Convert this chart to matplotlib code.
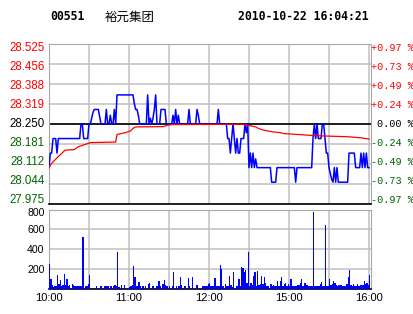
import matplotlib.pyplot as plt

plt.rcParams['font.family'] = ['Liberation Sans', 'DejaVu Sans']

# 股票信息
code = "00551"
name = "裕元集团"
stamp = "2010-10-22 16:04:21"
prev_close = 28.25

# 刻度标签
price_ticks = [28.525, 28.456, 28.388, 28.319, 28.250, 28.181, 28.112, 28.044, 27.975]
pct_labels = ["+0.97 %", "+0.73 %", "+0.49 %", "+0.24 %", "0.00 %",
              "-0.24 %", "-0.49 %", "-0.73 %", "-0.97 %"]
vol_ticks = [800, 600, 400, 200]
time_pos = [0, 60, 120, 180, 240]          # 交易分钟序号
time_labels = ["10:00", "11:00", "12:00", "15:00", "16:00"]

# 分时价格 (分钟序号, 价格)
price_min = [0, 1, 2, 3, 5, 6, 7, 23, 24, 25, 26, 29, 30, 31, 32, 33, 34, 37, 39, 42,
             43, 44, 45, 46, 47, 48, 49, 50, 51, 63, 64, 65, 66, 67, 68, 73, 74, 75, 76, 77,
             78, 79, 80, 81, 83, 84, 87, 88, 92, 93, 94, 95, 96, 97, 98, 104, 105, 106, 110, 111,
             112, 113, 126, 127, 128, 133, 134, 135, 136, 137, 138, 139, 140, 141, 142, 143, 144, 146, 147, 148,
             149, 150, 151, 152, 153, 154, 155, 156, 166, 167, 170, 171, 184, 185, 186, 197, 198, 199, 200, 201,
             202, 204, 205, 206, 207, 208, 209, 210, 211, 212, 213, 214, 215, 216, 217, 224, 225, 229, 230, 233,
             234, 235, 236, 237, 238, 239, 240]
price_val = [28.10, 28.15, 28.15, 28.20, 28.20, 28.15, 28.20, 28.20, 28.25, 28.25, 28.20, 28.20, 28.25, 28.25, 28.27, 28.29, 28.30, 28.30, 28.25, 28.25,
             28.30, 28.25, 28.25, 28.28, 28.25, 28.25, 28.30, 28.25, 28.35, 28.35, 28.32, 28.30, 28.30, 28.28, 28.25, 28.25, 28.35, 28.25, 28.27, 28.25,
             28.27, 28.30, 28.35, 28.25, 28.25, 28.30, 28.30, 28.25, 28.25, 28.28, 28.25, 28.30, 28.25, 28.28, 28.25, 28.25, 28.30, 28.25, 28.25, 28.30,
             28.28, 28.25, 28.25, 28.30, 28.25, 28.25, 28.20, 28.20, 28.15, 28.20, 28.25, 28.20, 28.15, 28.20, 28.15, 28.15, 28.20, 28.20, 28.25, 28.22,
             28.25, 28.10, 28.15, 28.10, 28.15, 28.10, 28.13, 28.10, 28.10, 28.05, 28.05, 28.10, 28.10, 28.05, 28.10, 28.10, 28.20, 28.25, 28.20, 28.25,
             28.20, 28.20, 28.25, 28.25, 28.20, 28.15, 28.15, 28.10, 28.08, 28.06, 28.05, 28.10, 28.05, 28.10, 28.05, 28.05, 28.15, 28.15, 28.10, 28.10,
             28.15, 28.10, 28.15, 28.10, 28.15, 28.10, 28.10]

# 均价线
avg_min = [0, 2, 7, 12, 19, 22, 26, 31, 50, 51, 57, 61, 63, 65, 86, 88, 92, 145, 150, 155,
           157, 160, 164, 168, 174, 176, 190, 199, 212, 225, 235, 240]
avg_val = [28.100, 28.115, 28.138, 28.160, 28.162, 28.172, 28.178, 28.186, 28.188, 28.214,
           28.220, 28.226, 28.235, 28.240, 28.241, 28.245, 28.248, 28.249, 28.245, 28.240,
           28.235, 28.230, 28.226, 28.223, 28.220, 28.217, 28.213, 28.210, 28.208, 28.206,
           28.202, 28.198]

# 每分钟成交量
volume = [245, 100, 34, 17, 24, 24, 134, 50, 84, 24,
          34, 144, 34, 100, 24, 34, 0, 50, 34, 24,
          24, 24, 24, 24, 24, 517, 0, 24, 24, 50,
          134, 0, 0, 0, 0, 24, 0, 0, 24, 24,
          0, 24, 24, 24, 24, 0, 24, 0, 24, 40,
          24, 366, 17, 0, 34, 0, 34, 0, 0, 0,
          17, 24, 34, 225, 114, 24, 24, 64, 24, 0,
          24, 0, 24, 0, 44, 57, 0, 24, 24, 0,
          24, 24, 74, 24, 0, 44, 90, 34, 24, 0,
          24, 0, 24, 165, 0, 24, 0, 24, 114, 34,
          0, 24, 24, 0, 104, 24, 0, 114, 0, 0,
          34, 34, 0, 0, 0, 24, 24, 24, 24, 47,
          60, 24, 24, 24, 104, 24, 24, 24, 235, 200,
          24, 0, 44, 24, 24, 124, 34, 17, 165, 0,
          24, 24, 94, 24, 215, 208, 165, 191, 54, 366,
          24, 54, 34, 124, 165, 24, 181, 34, 44, 131,
          44, 114, 54, 24, 24, 0, 44, 24, 40, 24,
          24, 80, 24, 80, 114, 24, 44, 54, 24, 44,
          24, 94, 24, 24, 24, 24, 40, 34, 54, 94,
          24, 54, 54, 34, 24, 24, 24, 24, 770, 24,
          24, 24, 24, 44, 64, 24, 24, 648, 24, 24,
          94, 34, 44, 74, 54, 34, 24, 34, 40, 34,
          24, 24, 24, 44, 114, 185, 34, 24, 44, 24,
          24, 44, 24, 34, 34, 40, 74, 44, 54, 34,
          134]

W, H = 414, 314
RED, GREEN, GRID, EDGE = '#ff0000', '#006400', '#c0c0c0', '#a8a8a8'

fig = plt.figure(figsize=(W / 100, H / 100), dpi=100)
ax = fig.add_axes([49 / W, 1 - 204 / H, 322 / W, 160 / H])
axv = fig.add_axes([49 / W, 1 - 288.5 / H, 322 / W, 79 / H])

# 价格图
ax.set_xlim(0, 241.5)
ax.set_ylim(price_ticks[-1], price_ticks[0])
ax.set_xticks(range(0, 241, 30))
ax.set_yticks(price_ticks)
ax.grid(color=GRID, lw=1.1)
ax.tick_params(length=0, labelleft=False, labelbottom=False)
for s in ['left', 'right', 'top']:
    ax.spines[s].set_color(EDGE)
ax.spines['bottom'].set_color('black')
ax.spines['bottom'].set_linewidth(1.2)
ax.axhline(prev_close, color='black', lw=1.2, zorder=2)
ax.plot(price_min, price_val, color='#0000ff', lw=1.1, zorder=3)
ax.plot(avg_min, avg_val, color=RED, lw=0.9, zorder=4)

# 成交量图
axv.bar(range(len(volume)), volume, width=0.9, align='edge', color='#0000ff',
        linewidth=0, antialiased=False, zorder=3)
axv.set_xlim(0, 241.5)
axv.set_ylim(0, 800)
axv.set_yticks([0, 200, 400, 600, 800])
ticks = list(range(0, 241, 30))
lbl = dict(zip(time_pos, time_labels))
axv.set_xticks(ticks, [lbl.get(t, '') for t in ticks], fontsize=8)
axv.grid(color=GRID, lw=1.1)
axv.tick_params(length=0, labelleft=False, pad=3)
for s in ['left', 'right', 'top']:
    axv.spines[s].set_color(EDGE)
axv.spines['bottom'].set_color('black')
axv.spines['bottom'].set_linewidth(1.2)

# 左右刻度文字
for i, (p, pc) in enumerate(zip(price_ticks, pct_labels)):
    col = RED if p > prev_close else ('black' if p == prev_close else GREEN)
    y = 1 - (51 + 19.05 * i) / H
    fig.text(44.5 / W, y, f"{p:.3f}", ha='right', va='baseline', color=col, fontsize=8.3)
    fig.text(413.5 / W, y, pc, ha='right', va='baseline', color=col, fontsize=7.3,
             family='Liberation Mono')

for v, b in zip(vol_ticks, [216, 233.3, 253.3, 273.3]):
    fig.text(44.5 / W, 1 - b / H, str(v), ha='right', va='baseline', fontsize=7.6)

# 标题
fig.text(50 / W, 1 - 20.5 / H, code, fontsize=8.3, weight='bold', family='DejaVu Sans Mono')
fig.text(105 / W, 1 - 20.5 / H, name, fontsize=9, family=['Noto Sans CJK SC', 'DejaVu Sans'])
fig.text(238 / W, 1 - 20.5 / H, stamp, fontsize=8.3, weight='bold', family='DejaVu Sans Mono')

fig.savefig('out.png', dpi=100, facecolor='white')
